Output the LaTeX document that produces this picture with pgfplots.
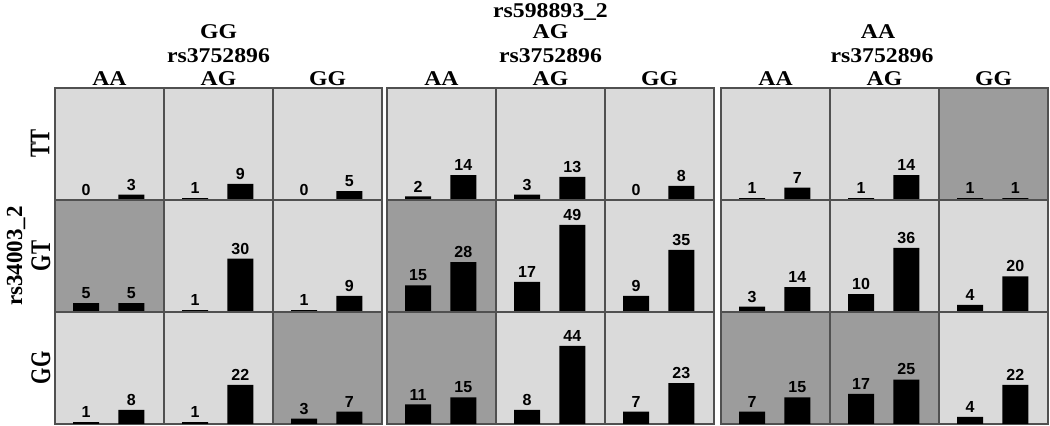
\documentclass[border=0pt]{standalone}
\usepackage{pgfplots}
\pgfplotsset{compat=1.18}
\usepackage{graphicx}
\usepackage{fontspec}
\setmainfont{Liberation Serif}
\newfontfamily\numfont{Liberation Sans}
\definecolor{lightcell}{HTML}{DADADA}
\definecolor{darkcell}{HTML}{9C9C9C}
\definecolor{frame}{HTML}{505050}

\pgfplotsset{
  cell/.style={
    scale only axis, width=54.5pt, height=56pt,
    xmin=0.313, xmax=2.723, ymin=0, ymax=63,
    xtick=\empty, ytick=\empty,
    axis line style={draw=frame, line width=0.6pt},
    anchor=south west, clip=false,
    ybar, bar width=0.575,
    /pgf/number format/assume math mode=true,
    nodes near coords={\numfont\bfseries\fontsize{8}{9}\selectfont\pgfmathprintnumber{\pgfplotspointmeta}},
    nodes near coords style={inner sep=2pt},
  }
}
% \cell{left px}{bottom px}{background}{bar 1}{bar 2}
\newcommand{\cell}[5]{%
  \begin{axis}[cell, at={({#1*0.5pt},{(426-#2)*0.5pt})}, axis background/.style={fill=#3}]
    \addplot[fill=black, draw=none] coordinates {(1,#4) (2,#5)};
  \end{axis}}
% header text, px coordinates of its centre
\newcommand{\hd}[3]{%
  \node[inner sep=0pt] at ({#1*0.5pt},{(426-#2)*0.5pt}) {\scalebox{1.13}[1]{\bfseries\fontsize{10.5}{12}\selectfont #3}};}
\newcommand{\rowlab}[4]{%
  \node[inner sep=0pt] at ({#1*0.5pt},{(426-#2)*0.5pt}) {\scalebox{#4}[1]{\rotatebox{90}{\bfseries\fontsize{10.5}{12}\selectfont #3}}};}

\begin{document}
\begin{tikzpicture}
\path[use as bounding box] (0,0) rectangle (525pt,213pt);

% rs598893_2 = GG
\cell{55}{200}{lightcell}{0}{3}
\cell{164}{200}{lightcell}{1}{9}
\cell{273}{200}{lightcell}{0}{5}
\cell{55}{312}{darkcell}{5}{5}
\cell{164}{312}{lightcell}{1}{30}
\cell{273}{312}{lightcell}{1}{9}
\cell{55}{424}{lightcell}{1}{8}
\cell{164}{424}{lightcell}{1}{22}
\cell{273}{424}{darkcell}{3}{7}

% rs598893_2 = AG
\cell{387}{200}{lightcell}{2}{14}
\cell{496}{200}{lightcell}{3}{13}
\cell{605}{200}{lightcell}{0}{8}
\cell{387}{312}{darkcell}{15}{28}
\cell{496}{312}{lightcell}{17}{49}
\cell{605}{312}{lightcell}{9}{35}
\cell{387}{424}{darkcell}{11}{15}
\cell{496}{424}{lightcell}{8}{44}
\cell{605}{424}{lightcell}{7}{23}

% rs598893_2 = AA
\cell{721}{200}{lightcell}{1}{7}
\cell{830}{200}{lightcell}{1}{14}
\cell{939}{200}{darkcell}{1}{1}
\cell{721}{312}{lightcell}{3}{14}
\cell{830}{312}{lightcell}{10}{36}
\cell{939}{312}{lightcell}{4}{20}
\cell{721}{424}{darkcell}{7}{15}
\cell{830}{424}{darkcell}{17}{25}
\cell{939}{424}{lightcell}{4}{22}

% column headers
\hd{109.5}{78.5}{AA}\hd{218.5}{78.5}{AG}\hd{327.5}{78.5}{GG}
\hd{441.5}{78.5}{AA}\hd{550.5}{78.5}{AG}\hd{659.5}{78.5}{GG}
\hd{775.5}{78.5}{AA}\hd{884.5}{78.5}{AG}\hd{993.5}{78.5}{GG}
\hd{218.5}{56}{rs3752896}\hd{550.5}{56}{rs3752896}\hd{882}{56}{rs3752896}
\hd{218.5}{32}{GG}\hd{550.5}{32}{AG}\hd{878}{32}{AA}
\hd{550.5}{11.5}{rs598893\_2}

% row labels
\rowlab{40}{144}{TT}{1.35}
\rowlab{41}{256}{GT}{1.35}
\rowlab{41}{368}{GG}{1.35}
\node[inner sep=0pt] at ({16*0.5pt},{(426-256)*0.5pt}) {\rotatebox{90}{\bfseries\fontsize{11.5}{13}\selectfont rs34003\_2}};
\end{tikzpicture}
\end{document}
